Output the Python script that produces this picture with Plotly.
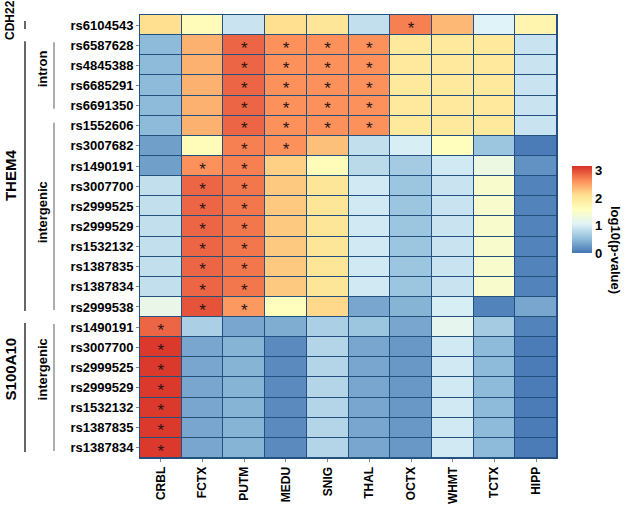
import plotly.graph_objects as go

# ---------------- data ----------------
tissues = ["CRBL", "FCTX", "PUTM", "MEDU", "SNIG", "THAL", "OCTX", "WHMT", "TCTX", "HIPP"]

snps = ["rs6104543",
        "rs6587628", "rs4845388", "rs6685291", "rs6691350",
        "rs1552606", "rs3007682", "rs1490191", "rs3007700", "rs2999525",
        "rs2999529", "rs1532132", "rs1387835", "rs1387834", "rs2999538",
        "rs1490191", "rs3007700", "rs2999525", "rs2999529", "rs1532132",
        "rs1387835", "rs1387834"]

genes = ["CDH22", "THEM4", "S100A10"]
gene_rows = [1, 14, 7]
regions = ["", "intron", "intergenic", "intergenic"]
region_rows = [1, 4, 10, 7]

log10p = [
    [2.10, 1.65, 0.90, 2.10, 2.00, 0.85, 2.70, 2.35, 1.05, 1.75],
    [0.50, 2.40, 2.85, 2.60, 2.60, 2.60, 1.95, 1.95, 1.95, 0.90],
    [0.50, 2.40, 2.85, 2.60, 2.60, 2.60, 1.95, 1.95, 1.95, 0.90],
    [0.50, 2.40, 2.85, 2.60, 2.60, 2.60, 1.95, 1.95, 1.95, 0.90],
    [0.50, 2.40, 2.85, 2.60, 2.60, 2.60, 1.95, 1.95, 1.95, 0.90],
    [0.50, 2.40, 2.85, 2.60, 2.60, 2.60, 1.95, 1.95, 1.95, 0.90],
    [0.30, 1.65, 2.70, 2.60, 2.30, 0.85, 1.00, 1.60, 0.60, 0.05],
    [0.30, 2.60, 2.70, 2.20, 1.65, 0.80, 0.65, 0.95, 1.25, 0.20],
    [0.85, 2.85, 2.75, 2.25, 2.00, 0.95, 0.60, 0.90, 1.45, 0.10],
    [0.85, 2.85, 2.75, 2.25, 2.00, 0.95, 0.60, 0.90, 1.45, 0.10],
    [0.85, 2.85, 2.75, 2.25, 2.00, 0.95, 0.60, 0.90, 1.45, 0.10],
    [0.85, 2.85, 2.75, 2.25, 2.00, 0.95, 0.60, 0.90, 1.45, 0.10],
    [0.85, 2.85, 2.75, 2.25, 2.00, 0.95, 0.60, 0.90, 1.45, 0.10],
    [0.85, 2.85, 2.75, 2.25, 2.00, 0.95, 0.60, 0.90, 1.45, 0.10],
    [1.20, 2.95, 2.55, 1.60, 2.15, 0.35, 0.45, 1.00, 0.10, 0.35],
    [2.85, 0.70, 0.35, 0.40, 0.70, 0.60, 0.35, 1.15, 0.65, 0.10],
    [3.10, 0.35, 0.45, 0.15, 0.75, 0.35, 0.25, 0.95, 0.50, 0.05],
    [3.10, 0.35, 0.45, 0.15, 0.75, 0.35, 0.25, 0.95, 0.50, 0.05],
    [3.10, 0.35, 0.45, 0.15, 0.75, 0.35, 0.25, 0.95, 0.50, 0.05],
    [3.10, 0.35, 0.45, 0.15, 0.75, 0.35, 0.25, 0.95, 0.50, 0.05],
    [3.10, 0.35, 0.45, 0.15, 0.75, 0.35, 0.25, 0.95, 0.50, 0.05],
    [3.10, 0.35, 0.45, 0.15, 0.75, 0.35, 0.25, 0.95, 0.50, 0.05],
]

significant = [
    ["OCTX"],
    ["PUTM", "MEDU", "SNIG", "THAL"],
    ["PUTM", "MEDU", "SNIG", "THAL"],
    ["PUTM", "MEDU", "SNIG", "THAL"],
    ["PUTM", "MEDU", "SNIG", "THAL"],
    ["PUTM", "MEDU", "SNIG", "THAL"],
    ["PUTM", "MEDU"],
    ["FCTX", "PUTM"], ["FCTX", "PUTM"], ["FCTX", "PUTM"], ["FCTX", "PUTM"],
    ["FCTX", "PUTM"], ["FCTX", "PUTM"], ["FCTX", "PUTM"], ["FCTX", "PUTM"],
    ["CRBL"], ["CRBL"], ["CRBL"], ["CRBL"], ["CRBL"], ["CRBL"], ["CRBL"],
]

# ---------------- styling ----------------
palette = ["#4575B4", "#91BFDB", "#E0F3F8", "#FFFFBF", "#FEE090", "#FC8D59", "#D73027"]
colorscale = [[i / (len(palette) - 1), c] for i, c in enumerate(palette)]
FONT = "Liberation Sans"
BORDER = "#23507f"
W, H = 625, 511
# plot area in page pixels: x 140..557, y 15..458
ML, MT = 140, 15
MR, MB = W - 557, H - 458
PW, PH = W - ML - MR, H - MT - MB


def px_x(page_x):
    return (page_x - ML) / PW


def px_y(page_y):
    return (H - MB - page_y) / PH


row_idx = list(range(len(snps)))
col_idx = list(range(len(tissues)))

fig = go.Figure()
fig.add_trace(go.Heatmap(
    z=log10p, x=col_idx, y=row_idx,
    colorscale=colorscale, zmin=0, zmax=3.15,
    xgap=1, ygap=1,
    colorbar=dict(
        xref="container", x=572 / W, xanchor="left",
        yref="container", y=(H - 242) / H, yanchor="middle",
        len=87, lenmode="pixels", thickness=20,
        outlinewidth=0, ticks="", tickvals=[0, 1, 2, 3], ypad=0, xpad=0,
        tickfont=dict(family=FONT, size=13, color="black", weight="bold"),
    ),
    hoverinfo="skip",
))

# significance asterisks (nudged down so the glyph sits in the cell centre)
ASTER_NUDGE = 0.22
sx, sy = [], []
for r, cols in enumerate(significant):
    for t in cols:
        sx.append(tissues.index(t))
        sy.append(r + ASTER_NUDGE)
fig.add_trace(go.Scatter(
    x=sx, y=sy, mode="text", text=["*"] * len(sx),
    textposition="middle center",
    textfont=dict(family=FONT, size=17, color="#2a1414"),
    hoverinfo="skip", showlegend=False,
))

# group brackets and labels
shapes, annotations = [], []
start = 0
gene_label_nudge = [-0.25, 0.0, -0.9]
gene_font = [12, 15, 15]
for g, n, nudge, fs in zip(genes, gene_rows, gene_label_nudge, gene_font):
    a, b = start, start + n - 1
    shapes.append(dict(type="line", xref="paper", yref="y",
                       x0=px_x(25), x1=px_x(25), y0=a - 0.5 + 0.3, y1=b + 0.5 - 0.3,
                       line=dict(color="black", width=1.2)))
    annotations.append(dict(x=px_x(10), xref="paper", y=(a + b) / 2 + nudge, yref="y",
                            text=g, textangle=-90, showarrow=False,
                            xanchor="center", yanchor="middle",
                            font=dict(family=FONT, size=fs, color="black", weight="bold")))
    start += n

start = 0
region_label_nudge = [0, -0.3, -0.2, -0.9]
for rg, n, nudge in zip(regions, region_rows, region_label_nudge):
    a, b = start, start + n - 1
    if rg:
        shapes.append(dict(type="line", xref="paper", yref="y",
                           x0=px_x(54), x1=px_x(54), y0=a - 0.5 + 0.35, y1=b + 0.5 - 0.35,
                           line=dict(color="#777777", width=1.2)))
        annotations.append(dict(x=px_x(42), xref="paper", y=(a + b) / 2 + nudge, yref="y",
                                text=rg, textangle=-90, showarrow=False,
                                xanchor="center", yanchor="middle",
                                font=dict(family=FONT, size=13, color="black", weight="bold")))
    start += n

annotations.append(dict(x=px_x(616), xref="paper", y=px_y(250), yref="paper",
                        text="log10(p-value)", textangle=90, showarrow=False,
                        xanchor="center", yanchor="middle",
                        font=dict(family=FONT, size=13, color="black", weight="bold")))

fig.update_layout(
    width=W, height=H,
    margin=dict(l=ML, r=MR, t=MT, b=MB, autoexpand=False),
    paper_bgcolor="white", plot_bgcolor=BORDER,
    shapes=shapes, annotations=annotations,
    showlegend=False,
)
fig.update_xaxes(
    tickvals=col_idx, ticktext=tissues, tickangle=-90,
    range=[-0.5, len(tissues) - 0.5],
    ticks="outside", ticklen=3, tickcolor="#888888",
    tickfont=dict(family=FONT, size=12, color="black", weight="bold"),
    showgrid=False, zeroline=False, automargin=False,
    showline=True, mirror=True, linecolor=BORDER, linewidth=1,
)
fig.update_yaxes(
    tickvals=row_idx, ticktext=snps,
    range=[len(snps) - 0.5, -0.5],
    ticks="outside", ticklen=3, tickcolor="#888888",
    tickfont=dict(family=FONT, size=13, color="black", weight="bold"),
    showgrid=False, zeroline=False, automargin=False,
    showline=True, mirror=True, linecolor=BORDER, linewidth=1,
)

fig.write_html("out.html",
               config={"displayModeBar": False},
               post_script="document.body.style.margin='0px';document.body.style.padding='0px';")
